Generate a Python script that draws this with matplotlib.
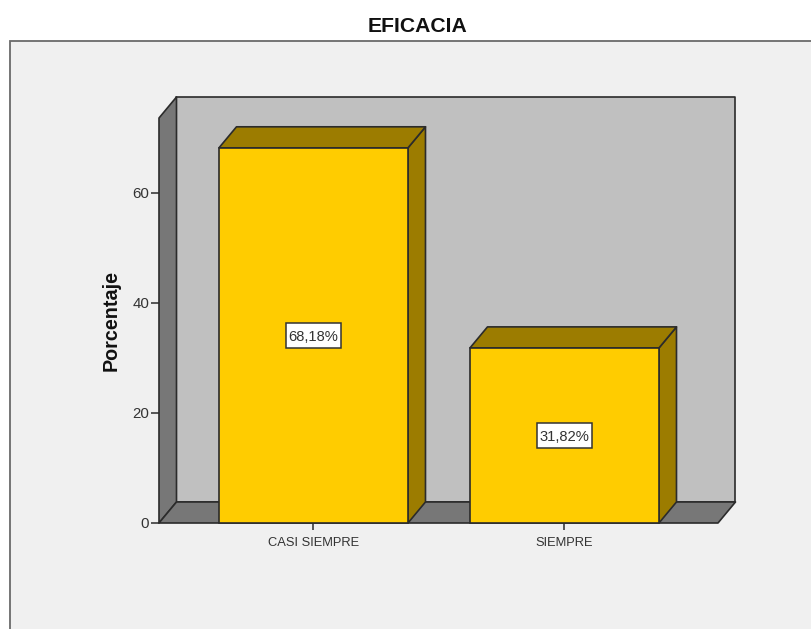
import matplotlib; matplotlib.use('Agg')
import matplotlib.pyplot as plt
from matplotlib.patches import Polygon, Rectangle

plt.rcParams['font.family'] = ['Liberation Sans', 'DejaVu Sans']

categorias = ['CASI SIEMPRE', 'SIEMPRE']
porcentajes = [68.18, 31.82]
etiquetas = ['68,18%', '31,82%']
y_ticks = [0, 20, 40, 60]

W, H = 812, 629
Y_MAX = 73.6
BAR_W = 0.753
# desplazamiento de la profundidad 3D, en unidades de datos
DX, DY = 0.0697, 3.82
# caja blanca de las etiquetas, en unidades de datos
BOX_W, BOX_H = 0.221, 4.4
LINE = '#2b2b2b'


def poly(ax, pts, color, z):
    ax.add_patch(Polygon(pts, closed=True, facecolor=color, edgecolor=LINE,
                         linewidth=1.2, joinstyle='round', clip_on=False, zorder=z))


fig = plt.figure(figsize=(W / 100, H / 100), dpi=100, facecolor='white')

# panel gris de fondo, abierto por la derecha y por abajo
fig.add_artist(Rectangle((10.5 / W, -10 / H), 820 / W, 598.5 / H, transform=fig.transFigure,
                         facecolor='#f0f0f0', edgecolor='#6a6a6a', linewidth=1.3, zorder=-1))

ax = fig.add_axes([159 / W, 1 - 523 / H, (718 - 159) / W, (523 - 118) / H])
ax.set_xlim(-0.6155, 1.6116)
ax.set_ylim(0, Y_MAX)
ax.patch.set_visible(False)
for s in ax.spines.values():
    s.set_visible(False)

x0, x1 = ax.get_xlim()

# paredes y suelo
poly(ax, [(x0 + DX, DY), (x1 + DX, DY), (x1 + DX, Y_MAX + DY), (x0 + DX, Y_MAX + DY)], '#c0c0c0', 1)
poly(ax, [(x0, 0), (x0 + DX, DY), (x0 + DX, Y_MAX + DY), (x0, Y_MAX)], '#777777', 2)
poly(ax, [(x0, 0), (x1, 0), (x1 + DX, DY), (x0 + DX, DY)], '#777777', 2)

# barras: lateral, tapa y frente
for i, v in enumerate(porcentajes):
    l, r = i - BAR_W / 2, i + BAR_W / 2
    poly(ax, [(r, 0), (r + DX, DY), (r + DX, v + DY), (r, v)], '#9c7c00', 3)
    poly(ax, [(l, v), (r, v), (r + DX, v + DY), (l + DX, v + DY)], '#9c7c00', 3)
    ax.bar(i, v, BAR_W, color='#ffcc00', edgecolor=LINE, linewidth=1.2, clip_on=False, zorder=4)
    ax.add_patch(Rectangle((i - BOX_W / 2, v / 2 - BOX_H / 2), BOX_W, BOX_H, facecolor='white',
                           edgecolor='#333333', linewidth=1.1, zorder=5))
    ax.text(i, v / 2, etiquetas[i], ha='center', va='center_baseline', fontsize=10.6,
            color='#333333', zorder=6)

ax.set_xticks(range(len(categorias)))
ax.set_xticklabels(categorias)
ax.set_yticks(y_ticks)
ax.tick_params(axis='x', length=5, width=1.1, color=LINE, labelsize=9.3, labelcolor='#333333', pad=5)
ax.tick_params(axis='y', length=6, width=1.1, color=LINE, labelsize=10.8, labelcolor='#333333', pad=1)
for t in ax.get_yticklabels():
    t.set_verticalalignment('center_baseline')
ax.set_ylabel('Porcentaje', fontsize=14.2, fontweight='bold', color='#111111')
ax.yaxis.set_label_coords((121 - 159) / (718 - 159), (523 - 320.5) / (523 - 118))

fig.text(418 / W, 1 - 26 / H, 'EFICACIA', ha='center', va='center', fontsize=15.2,
         fontweight='bold', color='#111111')

fig.savefig('out.png', dpi=100)
